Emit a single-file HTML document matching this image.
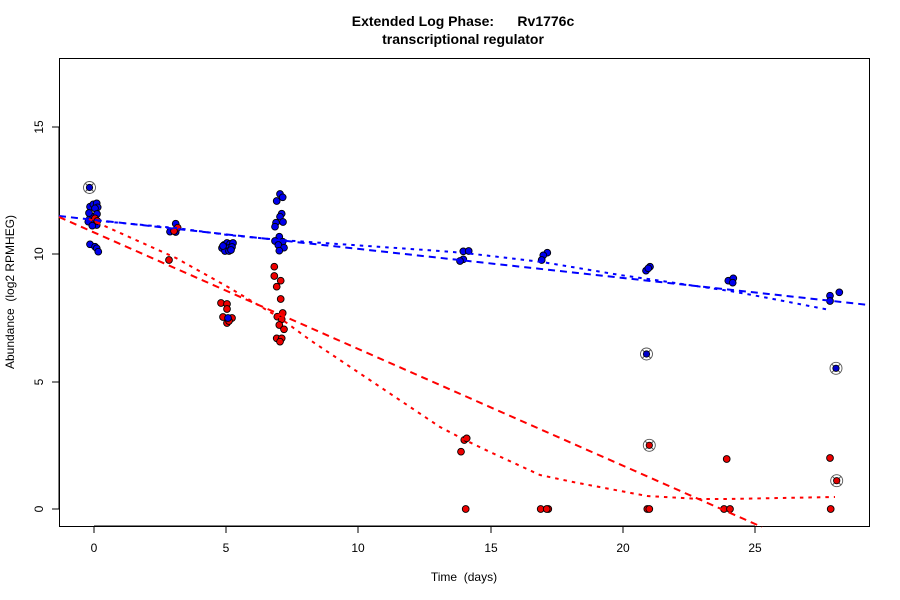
<!DOCTYPE html>
<html><head><meta charset="utf-8"><style>
html,body{margin:0;padding:0;background:#fff;}
svg{display:block;font-family:"Liberation Sans",Arial,sans-serif;}
</style></head><body>
<svg width="900" height="600" viewBox="0 0 900 600" xmlns="http://www.w3.org/2000/svg">
<rect width="900" height="600" fill="#fff"/>
<text x="463" y="26" font-size="14" font-weight="bold" text-anchor="middle" xml:space="preserve">Extended Log Phase:      Rv1776c</text>
<text x="463" y="44" font-size="14" font-weight="bold" text-anchor="middle">transcriptional regulator</text>
<rect x="59.5" y="58.5" width="810" height="468" fill="none" stroke="#000" stroke-width="1"/>
<g stroke="#000" stroke-width="1">
<line x1="94" y1="526" x2="755" y2="526"/>
<line x1="94" y1="526" x2="94" y2="533"/>
<line x1="226" y1="526" x2="226" y2="533"/>
<line x1="358" y1="526" x2="358" y2="533"/>
<line x1="491" y1="526" x2="491" y2="533"/>
<line x1="623" y1="526" x2="623" y2="533"/>
<line x1="755" y1="526" x2="755" y2="533"/>
<line x1="59" y1="127" x2="59" y2="509"/>
<line x1="52" y1="509" x2="59" y2="509"/>
<line x1="52" y1="382" x2="59" y2="382"/>
<line x1="52" y1="254" x2="59" y2="254"/>
<line x1="52" y1="127" x2="59" y2="127"/>
</g>
<g font-size="12" text-anchor="middle" fill="#000">
<text x="94" y="552">0</text>
<text x="226" y="552">5</text>
<text x="358" y="552">10</text>
<text x="491" y="552">15</text>
<text x="623" y="552">20</text>
<text x="755" y="552">25</text>
<text transform="translate(43,509) rotate(-90)">0</text>
<text transform="translate(43,382) rotate(-90)">5</text>
<text transform="translate(43,254) rotate(-90)">10</text>
<text transform="translate(43,127) rotate(-90)">15</text>
<text x="464" y="581" xml:space="preserve">Time  (days)</text>
<text transform="translate(14,292) rotate(-90)" xml:space="preserve">Abundance  (log2 RPMHEG)</text>
</g>
<g stroke="#000" stroke-width="0.9" fill="#0000ee">
<circle cx="90" cy="206.7" r="3.4"/><circle cx="93.3" cy="204.3" r="3.4"/><circle cx="96.7" cy="203.3" r="3.4"/><circle cx="97.7" cy="207.3" r="3.4"/><circle cx="95" cy="208.3" r="3.4"/><circle cx="90" cy="218.3" r="3.4"/><circle cx="93.3" cy="216.7" r="3.4"/><circle cx="95" cy="220" r="3.4"/><circle cx="91.7" cy="223.3" r="3.4"/><circle cx="96.7" cy="225" r="3.4"/><circle cx="88.3" cy="221.7" r="3.4"/><circle cx="92.3" cy="225.7" r="3.4"/><circle cx="90" cy="244.3" r="3.4"/><circle cx="95" cy="246.7" r="3.4"/><circle cx="96.7" cy="248.3" r="3.4"/><circle cx="98.3" cy="251.7" r="3.4"/><circle cx="89" cy="213" r="3.4"/><circle cx="97" cy="214" r="3.4"/>
<circle cx="175.7" cy="223.7" r="3.4"/><circle cx="170" cy="231.7" r="3.4"/><circle cx="175.7" cy="232" r="3.4"/>
<circle cx="224" cy="245" r="3.4"/><circle cx="227" cy="243" r="3.4"/><circle cx="230" cy="244" r="3.4"/><circle cx="233" cy="243" r="3.4"/><circle cx="222" cy="248" r="3.4"/><circle cx="226" cy="249" r="3.4"/><circle cx="229" cy="248" r="3.4"/><circle cx="232" cy="247" r="3.4"/><circle cx="225" cy="251" r="3.4"/><circle cx="229" cy="251" r="3.4"/><circle cx="223" cy="246" r="3.4"/><circle cx="231" cy="250" r="3.4"/>
<circle cx="280" cy="194" r="3.4"/><circle cx="282.7" cy="197.3" r="3.4"/><circle cx="276.7" cy="201" r="3.4"/><circle cx="281.7" cy="213.7" r="3.4"/><circle cx="280" cy="216.7" r="3.4"/><circle cx="276" cy="222.7" r="3.4"/><circle cx="283" cy="222" r="3.4"/><circle cx="275" cy="226.7" r="3.4"/><circle cx="279.3" cy="236.7" r="3.4"/><circle cx="275" cy="241" r="3.4"/><circle cx="282.7" cy="241.7" r="3.4"/><circle cx="278.3" cy="245" r="3.4"/><circle cx="284" cy="247.7" r="3.4"/><circle cx="279.3" cy="250.7" r="3.4"/>
<circle cx="463.3" cy="251.3" r="3.4"/><circle cx="468.7" cy="251" r="3.4"/><circle cx="463.3" cy="259.3" r="3.4"/><circle cx="460" cy="261" r="3.4"/>
<circle cx="547.3" cy="252.7" r="3.4"/><circle cx="543.3" cy="255.3" r="3.4"/><circle cx="541.7" cy="260" r="3.4"/>
<circle cx="646" cy="270.7" r="3.4"/><circle cx="650" cy="266.7" r="3.4"/><circle cx="648.3" cy="268.3" r="3.4"/>
<circle cx="728.3" cy="280.7" r="3.4"/><circle cx="733.3" cy="278.3" r="3.4"/><circle cx="732.7" cy="282.7" r="3.4"/>
<circle cx="830" cy="295.7" r="3.4"/><circle cx="830" cy="301" r="3.4"/><circle cx="839.3" cy="292.3" r="3.4"/>
</g>
<g stroke="#000" stroke-width="0.9" fill="#ee0000">
<circle cx="95" cy="218.3" r="3.4"/><circle cx="97.3" cy="221" r="3.4"/>
<circle cx="177.7" cy="227.7" r="3.4"/><circle cx="174" cy="231" r="3.4"/><circle cx="169" cy="260" r="3.4"/>
<circle cx="221" cy="303" r="3.4"/><circle cx="227" cy="304" r="3.4"/><circle cx="227" cy="309" r="3.4"/><circle cx="223" cy="317" r="3.4"/><circle cx="232" cy="318" r="3.4"/><circle cx="227" cy="323" r="3.4"/><circle cx="229" cy="321" r="3.4"/>
<circle cx="274.3" cy="266.7" r="3.4"/><circle cx="274.3" cy="276" r="3.4"/><circle cx="280.7" cy="280.7" r="3.4"/><circle cx="276.7" cy="286.7" r="3.4"/><circle cx="280.7" cy="299" r="3.4"/><circle cx="282.7" cy="313" r="3.4"/><circle cx="277.3" cy="316.7" r="3.4"/><circle cx="281.7" cy="319.3" r="3.4"/><circle cx="279.3" cy="325" r="3.4"/><circle cx="284" cy="329.3" r="3.4"/><circle cx="276.7" cy="338.3" r="3.4"/><circle cx="281.7" cy="338.3" r="3.4"/><circle cx="280" cy="341.7" r="3.4"/>
<circle cx="464.3" cy="440" r="3.4"/><circle cx="466.7" cy="438.3" r="3.4"/><circle cx="461" cy="451.7" r="3.4"/><circle cx="465.7" cy="509" r="3.4"/>
<circle cx="540.7" cy="509" r="3.4"/><circle cx="548.3" cy="509" r="3.4"/><circle cx="546.7" cy="509" r="3.4"/>
<circle cx="647.3" cy="509" r="3.4"/><circle cx="649.3" cy="509" r="3.4"/>
<circle cx="726.7" cy="459" r="3.4"/><circle cx="724" cy="509" r="3.4"/><circle cx="730" cy="509" r="3.4"/>
<circle cx="830" cy="458" r="3.4"/><circle cx="830.7" cy="509" r="3.4"/>
</g>
<g stroke="#000" stroke-width="0.9" fill="#0000ee">
<circle cx="228" cy="318" r="3.4"/>
</g>
<g>
<g transform="translate(89.5,187.5)"><circle r="6" fill="none" stroke="#555" stroke-width="0.9"/><line x1="-4.5" y1="-4.5" x2="4.5" y2="4.5" stroke="#555"/><line x1="-4.5" y1="4.5" x2="4.5" y2="-4.5" stroke="#555"/><circle r="3.2" fill="#0000cc" stroke="#000" stroke-width="0.8"/></g>
<g transform="translate(646.5,354)"><circle r="6" fill="none" stroke="#555" stroke-width="0.9"/><line x1="-4.5" y1="-4.5" x2="4.5" y2="4.5" stroke="#555"/><line x1="-4.5" y1="4.5" x2="4.5" y2="-4.5" stroke="#555"/><circle r="3.2" fill="#0000cc" stroke="#000" stroke-width="0.8"/></g>
<g transform="translate(836,368.3)"><circle r="6" fill="none" stroke="#555" stroke-width="0.9"/><line x1="-4.5" y1="-4.5" x2="4.5" y2="4.5" stroke="#555"/><line x1="-4.5" y1="4.5" x2="4.5" y2="-4.5" stroke="#555"/><circle r="3.2" fill="#0000cc" stroke="#000" stroke-width="0.8"/></g>
<g transform="translate(649.3,445.3)"><circle r="6" fill="none" stroke="#555" stroke-width="0.9"/><line x1="-4.5" y1="-4.5" x2="4.5" y2="4.5" stroke="#555"/><line x1="-4.5" y1="4.5" x2="4.5" y2="-4.5" stroke="#555"/><circle r="3.2" fill="#dd0000" stroke="#000" stroke-width="0.8"/></g>
<g transform="translate(836.7,480.7)"><circle r="6" fill="none" stroke="#555" stroke-width="0.9"/><line x1="-4.5" y1="-4.5" x2="4.5" y2="4.5" stroke="#555"/><line x1="-4.5" y1="4.5" x2="4.5" y2="-4.5" stroke="#555"/><circle r="3.2" fill="#dd0000" stroke="#000" stroke-width="0.8"/></g>
</g>
<g fill="none" stroke-width="2">
<line x1="59" y1="216" x2="869" y2="305" stroke="#0000ff" stroke-dasharray="7 5"/>
<polyline points="89,220 176,228 228,235 280,240 440,251 465,253 542,262 620,275 648,279 730,291 763,297 830,310" stroke="#0000ff" stroke-dasharray="3.5 5"/>
<line x1="59" y1="217" x2="762" y2="527" stroke="#ff0000" stroke-dasharray="7 5"/>
<polyline points="89,219 176,258 228,287 280,318 310,340 440,427 465,440 490,452 540,475 573,482 647,496 700,499 727,499 835,497" stroke="#ff0000" stroke-dasharray="3.5 5"/>
</g>
</svg>
</body></html>
